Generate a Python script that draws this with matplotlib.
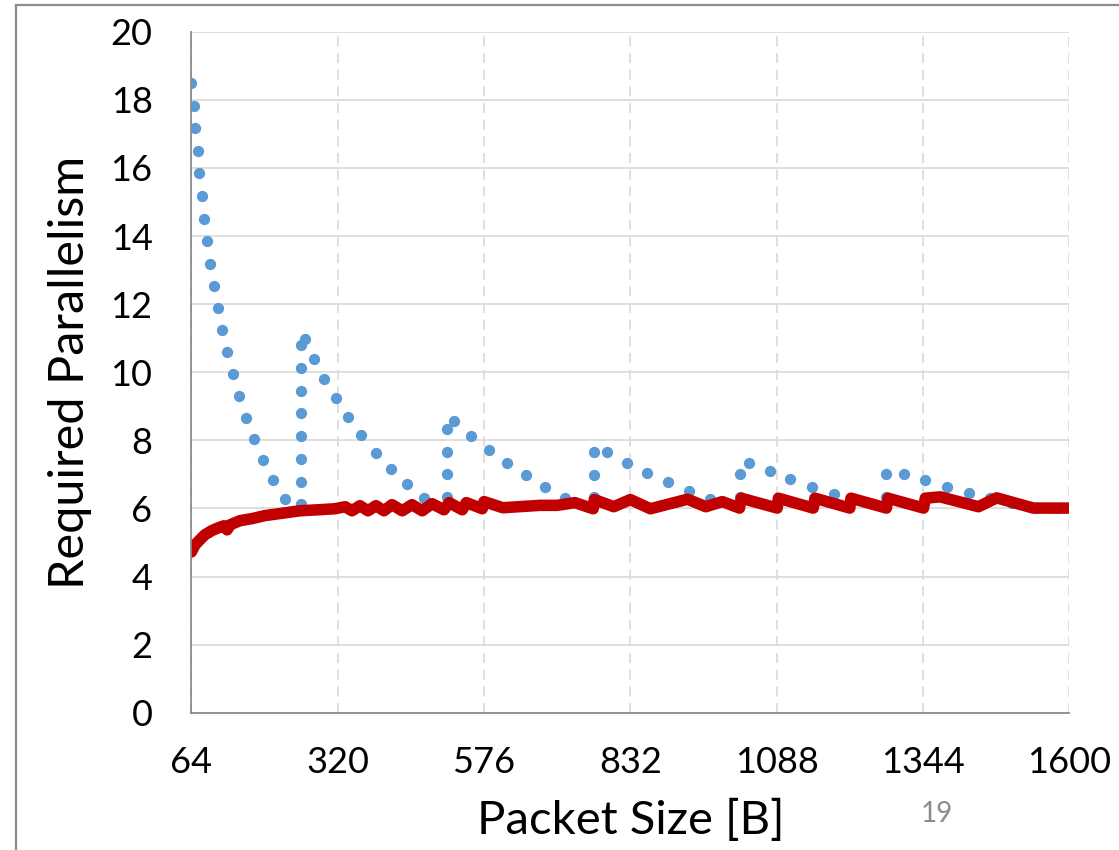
import matplotlib
matplotlib.use("Agg")
import matplotlib.pyplot as plt
from matplotlib.lines import Line2D

plt.rcParams['font.family'] = ['Lato', 'DejaVu Sans']

# blue dots (per-size required parallelism)
blue_x = [64, 68, 71, 75, 78, 83, 87, 92, 97, 104, 111, 118, 126.5, 136, 147, 159, 174, 189, 207, 227,
          256, 256, 256, 256, 256, 256, 256, 256,
          262, 279, 296, 317, 338, 361, 387, 413, 441, 471,
          512, 512, 512, 512,
          523, 553, 584, 616, 650, 683, 718,
          768, 768, 768,
          791, 826, 862, 898, 934, 971,
          1024, 1024,
          1039, 1076, 1112, 1149, 1188,
          1280, 1280,
          1310, 1348, 1386, 1424, 1462, 1500, 1541, 1578]
blue_y = [18.49, 17.83, 17.16, 16.5, 15.84, 15.17, 14.51, 13.85, 13.19, 12.54, 11.88, 11.23, 10.58, 9.94,
          9.29, 8.66, 8.04, 7.43, 6.84, 6.28,
          6.14, 6.79, 7.46, 8.13, 8.79, 9.46, 10.12, 10.79,
          10.99, 10.40, 9.81, 9.23, 8.68, 8.16, 7.64, 7.17, 6.73, 6.32,
          6.34, 7.0, 7.66, 8.33,
          8.58, 8.14, 7.72, 7.33, 6.97, 6.63, 6.32,
          6.33, 6.98, 7.67,
          7.67, 7.34, 7.04, 6.78, 6.51, 6.28,
          6.35, 7.01,
          7.34, 7.10, 6.86, 6.64, 6.43,
          6.35, 7.01,
          7.01, 6.82, 6.63, 6.45, 6.31, 6.15, 6.01, 6.01]

# red line (averaged parallelism)
red_x = [64, 70.5, 79, 88, 100, 111, 121, 126.5, 132, 149, 170, 193, 228, 254, 286, 315,
         333, 345, 359, 373, 387, 401, 415, 433, 450, 468, 485, 506, 515, 538, 545, 573, 576,
         609, 674, 704, 735, 767, 769, 803, 832, 867, 932, 964, 993,
         1023, 1026, 1089, 1091, 1152, 1155, 1216, 1218, 1280, 1283, 1345, 1348,
         1374, 1441, 1473, 1537, 1600]
red_y = [4.72, 4.93, 5.08, 5.23, 5.35, 5.43, 5.49, 5.37, 5.52, 5.64, 5.70, 5.79, 5.87, 5.93, 5.96, 5.99,
         6.05, 5.93, 6.08, 5.93, 6.08, 5.93, 6.11, 5.93, 6.11, 5.93, 6.14, 5.96, 6.17, 5.96, 6.17, 5.99, 6.20,
         6.02, 6.09, 6.09, 6.17, 5.99, 6.26, 6.05, 6.26, 5.99, 6.27, 6.05, 6.20,
         6.01, 6.30, 6.01, 6.30, 6.01, 6.30, 6.01, 6.30, 6.01, 6.30, 6.01, 6.30,
         6.34, 6.05, 6.31, 6.01, 6.01]

xticks = [64, 320, 576, 832, 1088, 1344, 1600]
yticks = list(range(0, 21, 2))

fig = plt.figure(figsize=(11.19, 8.5), dpi=100)
ax = fig.add_axes([0.171, 0.1615, 0.7846, 0.8012])

ax.scatter(blue_x, blue_y, s=66, color='#5B9BD5', zorder=3, linewidths=0)
ax.plot(red_x, red_y, color='#C00000', lw=8.3, solid_joinstyle='round',
        solid_capstyle='round', zorder=4)

ax.set_xlim(64, 1600)
ax.set_ylim(0, 20)
ax.set_xticks(xticks)
ax.set_yticks(yticks)
ax.tick_params(length=0, labelsize=26)
ax.tick_params(axis='y', pad=28)
ax.tick_params(axis='x', pad=24)

ax.yaxis.grid(True, color='#D9D9D9', lw=1.2, ls='-')
ax.xaxis.grid(True, color='#D9D9D9', lw=1.2, ls=(0, (6, 4)))
ax.set_axisbelow(True)

for s in ['top', 'right']:
    ax.spines[s].set_visible(False)
for s in ['left', 'bottom']:
    ax.spines[s].set_color('#8C8C8C')
    ax.spines[s].set_linewidth(1.3)
    ax.spines[s].set_zorder(5)

ax.set_xlabel('Packet Size [B]', fontsize=34)
ax.xaxis.set_label_coords(0.5, -0.1576)
ax.xaxis.label.set_verticalalignment('center')
ax.set_ylabel('Required Parallelism', fontsize=35)
ax.yaxis.set_label_coords(-0.138, 0.5)
ax.yaxis.label.set_verticalalignment('center')

# slide page number and frame
fig.text(937 / 1119, 1 - 814 / 850, '19', fontsize=20, color='#8C8C8C', ha='center', va='center')
fig.add_artist(Line2D([15.5 / 1119, 1], [1 - 5 / 850, 1 - 5 / 850], color='#8C8C8C', lw=1.6))
fig.add_artist(Line2D([15.5 / 1119, 15.5 / 1119], [0, 1 - 5 / 850], color='#8C8C8C', lw=1.6))

fig.savefig('out.png', dpi=100)
